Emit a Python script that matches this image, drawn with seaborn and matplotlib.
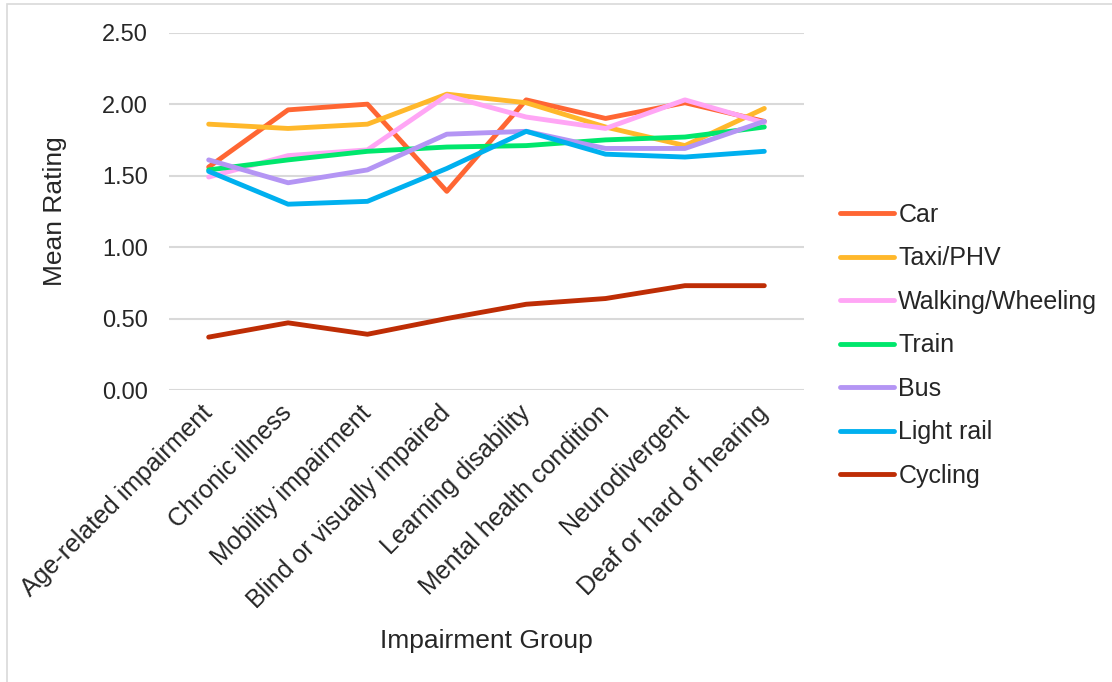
import matplotlib
matplotlib.use("Agg")
import matplotlib.pyplot as plt
from matplotlib.patches import Rectangle
import seaborn as sns
import pandas as pd

groups = ["Age-related impairment", "Chronic illness", "Mobility impairment",
          "Blind or visually impaired", "Learning disability",
          "Mental health condition", "Neurodivergent", "Deaf or hard of hearing"]

car = [1.56, 1.96, 2.00, 1.39, 2.03, 1.90, 2.01, 1.88]
taxi = [1.86, 1.83, 1.86, 2.07, 2.01, 1.84, 1.71, 1.97]
walking = [1.49, 1.64, 1.68, 2.06, 1.91, 1.83, 2.03, 1.87]
train = [1.54, 1.61, 1.67, 1.70, 1.71, 1.75, 1.77, 1.84]
bus = [1.61, 1.45, 1.54, 1.79, 1.81, 1.69, 1.69, 1.88]
light_rail = [1.53, 1.30, 1.32, 1.55, 1.81, 1.65, 1.63, 1.67]
cycling = [0.37, 0.47, 0.39, 0.50, 0.60, 0.64, 0.73, 0.73]

modes = ["Car", "Taxi/PHV", "Walking/Wheeling", "Train", "Bus", "Light rail", "Cycling"]
series = [car, taxi, walking, train, bus, light_rail, cycling]
colors = ["#FF6633", "#FFB82B", "#FFA6F5", "#00E76C", "#B495F4", "#00B0EF", "#BE2D05"]

rows = []
for m, vals in zip(modes, series):
    for g, v in zip(groups, vals):
        rows.append({"Impairment Group": g, "Mean Rating": v, "Mode": m})
df = pd.DataFrame(rows)

sns.set_style("white")
plt.rcParams["font.family"] = ["Liberation Sans", "DejaVu Sans"]

fig = plt.figure(figsize=(11.12, 6.82), dpi=100)
ax = fig.add_axes([169/1112, 1 - 390/682, (804-169)/1112, (390-32.7)/682])

# chart border
fig.patches.append(Rectangle((7/1112, -0.01), 1.2, 1 - 4/682 + 0.01, transform=fig.transFigure,
                             fill=False, edgecolor="#D9D9D9", linewidth=1.2))

sns.lineplot(data=df, x="Impairment Group", y="Mean Rating", hue="Mode",
             hue_order=modes, palette=dict(zip(modes, colors)), sort=False,
             linewidth=3.5, ax=ax, estimator=None, errorbar=None)
for ln in ax.lines:
    ln.set_solid_capstyle("round")
    ln.set_solid_joinstyle("round")

ax.set_xlim(-0.5, 7.5)
ax.set_ylim(0, 2.5)
ticks = [0, 0.5, 1.0, 1.5, 2.0, 2.5]
ax.set_yticks(ticks)
ax.set_yticklabels([f"{t:.2f}" for t in ticks], fontsize=17)
ax.yaxis.grid(True, color="#D9D9D9", linewidth=1.5)
ax.xaxis.grid(False)
for s in ax.spines.values():
    s.set_visible(False)
ax.tick_params(axis="both", length=0)
ax.tick_params(axis="y", pad=15)
ax.set_xticks(range(len(groups)))
ax.set_xticklabels(groups, rotation=45, ha="right", va="center",
                   rotation_mode="anchor", fontsize=18)
ax.tick_params(axis="x", pad=14)
ax.set_xlabel("")
ax.set_ylabel("")
fig.text(486/1112, 1 - 641/682, "Impairment Group", fontsize=19, ha="center", va="center")
fig.text(55/1112, 1 - 211/682, "Mean Rating", fontsize=19, ha="center", va="center",
         rotation=90)

leg = ax.legend(loc="upper left", bbox_to_anchor=(840/1112, 1 - 203/682),
                bbox_transform=fig.transFigure, frameon=False, fontsize=18,
                handlelength=2.15, handletextpad=0.18, labelspacing=0.78,
                borderaxespad=0, borderpad=0)
for h in leg.get_lines():
    h.set_linewidth(3.5)
    h.set_solid_capstyle("round")

fig.savefig("out.png", dpi=100)
